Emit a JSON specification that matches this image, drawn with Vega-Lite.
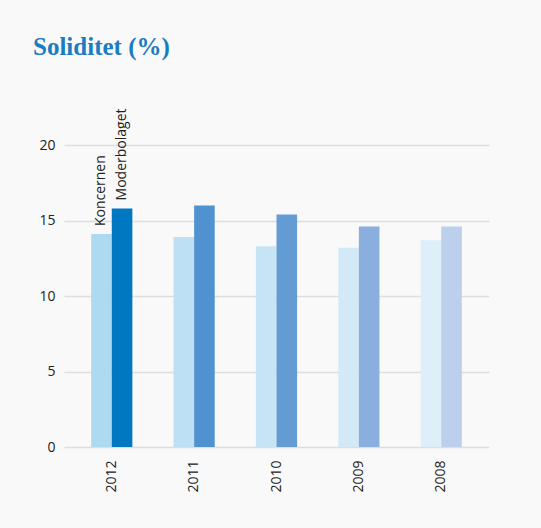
{
  "$schema": "https://vega.github.io/schema/vega-lite/v6.json",
  "width": 425,
  "height": 302,
  "autosize": "none",
  "padding": {"left": 64, "top": 145, "right": 52, "bottom": 81},
  "background": "#f9f9f9",
  "title": {
    "text": "Soliditet (%)",
    "anchor": "start",
    "frame": "group",
    "offset": 49,
    "dx": -31,
    "font": "Liberation Serif",
    "fontSize": 25,
    "fontWeight": "bold",
    "color": "#1a7cc2"
  },
  "data": {
    "values": [
      {"year": "2012", "group": "Koncernen", "key": "2012 Koncernen", "value": 14.1},
      {"year": "2012", "group": "Moderbolaget", "key": "2012 Moderbolaget", "value": 15.8},
      {"year": "2011", "group": "Koncernen", "key": "2011 Koncernen", "value": 13.9},
      {"year": "2011", "group": "Moderbolaget", "key": "2011 Moderbolaget", "value": 16.0},
      {"year": "2010", "group": "Koncernen", "key": "2010 Koncernen", "value": 13.3},
      {"year": "2010", "group": "Moderbolaget", "key": "2010 Moderbolaget", "value": 15.4},
      {"year": "2009", "group": "Koncernen", "key": "2009 Koncernen", "value": 13.2},
      {"year": "2009", "group": "Moderbolaget", "key": "2009 Moderbolaget", "value": 14.6},
      {"year": "2008", "group": "Koncernen", "key": "2008 Koncernen", "value": 13.7},
      {"year": "2008", "group": "Moderbolaget", "key": "2008 Moderbolaget", "value": 14.6}
    ]
  },
  "encoding": {
    "x": {
      "field": "year",
      "type": "nominal",
      "sort": ["2012", "2011", "2010", "2009", "2008"],
      "scale": {"paddingInner": 0.5, "paddingOuter": 0.33},
      "axis": {
        "title": null,
        "labelAngle": 270,
        "labelPadding": 13,
        "ticks": false,
        "domain": false,
        "labelFont": "Open Sans",
        "labelFontSize": 14,
        "labelColor": "#222222"
      }
    },
    "xOffset": {"field": "group", "type": "nominal"},
    "y": {
      "field": "value",
      "type": "quantitative",
      "scale": {"domain": [0, 20]},
      "axis": {
        "title": null,
        "values": [0, 5, 10, 15, 20],
        "ticks": false,
        "domain": false,
        "labelPadding": 9,
        "labelFont": "Open Sans",
        "labelFontSize": 14,
        "labelColor": "#222222",
        "gridColor": "#dedede",
        "gridWidth": 1.5
      }
    }
  },
  "layer": [
    {
      "mark": {"type": "bar"},
      "encoding": {
        "color": {
          "field": "key",
          "type": "nominal",
          "legend": null,
          "scale": {
            "domain": ["2012 Koncernen", "2012 Moderbolaget", "2011 Koncernen", "2011 Moderbolaget", "2010 Koncernen", "2010 Moderbolaget", "2009 Koncernen", "2009 Moderbolaget", "2008 Koncernen", "2008 Moderbolaget"],
            "range": ["#add9f1", "#0077c1", "#bde0f4", "#5092d0", "#c6e4f6", "#639cd3", "#d4e9f7", "#8aaede", "#dfeffa", "#bccfed"]
          }
        }
      }
    },
    {
      "transform": [{"filter": "datum.year == '2012'"}],
      "mark": {
        "type": "text",
        "angle": 270,
        "align": "left",
        "baseline": "middle",
        "dx": 8,
        "font": "Open Sans",
        "fontSize": 14,
        "color": "#222222"
      },
      "encoding": {"text": {"field": "group"}}
    }
  ],
  "config": {"view": {"stroke": null}}
}
